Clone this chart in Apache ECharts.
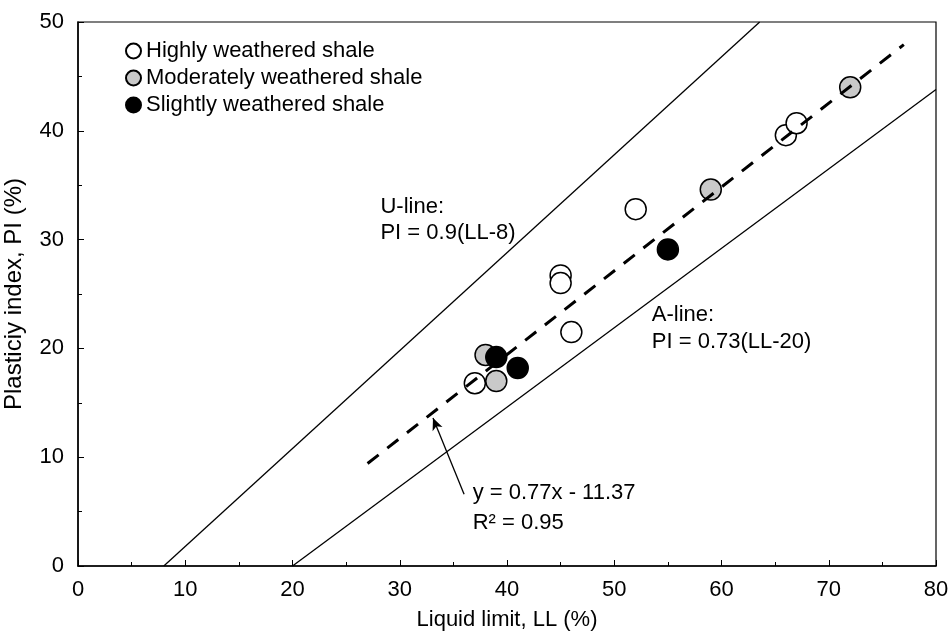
<!DOCTYPE html>
<html><head><meta charset="utf-8">
<script src="https://cdn.jsdelivr.net/npm/echarts@6/dist/echarts.min.js"></script>
<style>html,body{margin:0;padding:0;background:#fff}#c{width:952px;height:635px}</style>
</head><body><div id="c"></div>
<script>
// Data
const highlyLL = [37, 45, 45, 46, 52, 66, 67];
const highlyPI = [16.8, 26.7, 26.0, 21.5, 32.8, 39.6, 40.7];
const modLL = [38, 39, 59, 72];
const modPI = [19.4, 17.0, 34.6, 44.0];
const slightLL = [39, 41, 55];
const slightPI = [19.2, 18.2, 29.1];
const uLineLL = [8, 63.56];
const uLinePI = [0, 50];
const aLineLL = [20, 80];
const aLinePI = [0, 43.8];
const fitLL = [27, 77];
const fitPI = [9.42, 47.92];
const seriesNames = ['Highly weathered shale', 'Moderately weathered shale', 'Slightly weathered shale'];

const zip = (a, b) => a.map((v, i) => [v, b[i]]);
const FONT = 'Liberation Sans, Arial, sans-serif';
const FS = 22;
const chart = echarts.init(document.getElementById('c'), null, {renderer: 'canvas'});

const ptStyle = (fill) => ({color: fill, borderColor: '#000', borderWidth: 1.5, opacity: 1});

chart.setOption({
  backgroundColor: '#fff',
  animation: false,
  grid: {left: 78, right: 16, top: 22, bottom: 69, show: true, borderColor: '#000', borderWidth: 1.2,
         backgroundColor: 'transparent', containLabel: false, outerBoundsMode: 'none'},
  legend: {
    orient: 'vertical', left: 120, top: 35, itemGap: 5, itemWidth: 15, itemHeight: 15,
    icon: 'circle', data: seriesNames,
    textStyle: {fontFamily: FONT, fontSize: FS, color: '#000', padding: [0, 0, 0, 0]}
  },
  xAxis: {
    type: 'value', min: 0, max: 80, interval: 10,
    name: 'Liquid limit, LL (%)', nameLocation: 'middle', nameGap: 43,
    nameTextStyle: {fontFamily: FONT, fontSize: FS, color: '#000'},
    axisLine: {show: true, lineStyle: {color: '#000', width: 1.5}},
    axisTick: {show: true, inside: true, length: 6, lineStyle: {color: '#000'}},
    minorTick: {show: true, splitNumber: 2, length: 4, lineStyle: {color: '#000'}},
    splitLine: {show: false},
    axisLabel: {fontFamily: FONT, fontSize: FS, color: '#000', margin: 13}
  },
  yAxis: {
    type: 'value', min: 0, max: 50, interval: 10,
    name: 'Plasticiy index, PI (%)', nameLocation: 'middle', nameGap: 52,
    nameTextStyle: {fontFamily: FONT, fontSize: 24, color: '#000'},
    axisLine: {show: true, lineStyle: {color: '#000', width: 1.5}},
    axisTick: {show: true, inside: true, length: 6, lineStyle: {color: '#000'}},
    minorTick: {show: true, splitNumber: 2, length: 4, lineStyle: {color: '#000'}},
    splitLine: {show: false},
    axisLabel: {fontFamily: FONT, fontSize: FS, color: '#000', margin: 14}
  },
  series: [
    {name: 'U-line', type: 'line', data: zip(uLineLL, uLinePI), symbol: 'none', lineStyle: {color: '#000', width: 1.3}, z: 1, silent: true},
    {name: 'A-line', type: 'line', data: zip(aLineLL, aLinePI), symbol: 'none', lineStyle: {color: '#000', width: 1.3}, z: 1, silent: true},
    {name: seriesNames[0], type: 'scatter', data: zip(highlyLL, highlyPI), symbolSize: 21, itemStyle: ptStyle('#fff'), z: 2},
    {name: seriesNames[1], type: 'scatter', data: zip(modLL, modPI), symbolSize: 21, itemStyle: ptStyle('#c9c9c9'), z: 3},
    {name: seriesNames[2], type: 'scatter', data: zip(slightLL, slightPI), symbolSize: 21, itemStyle: ptStyle('#000'), z: 4},
    {name: 'fit', type: 'line', data: zip(fitLL, fitPI), symbol: 'none',
     lineStyle: {color: '#000', width: 3, type: [14, 11]}, z: 5, silent: true,
     markLine: {silent: true, symbol: ['none', 'arrow'], symbolSize: [8, 12],
       lineStyle: {color: '#000', width: 1.3, type: 'solid'}, label: {show: false},
       data: [[{coord: [36.0, 6.6]}, {coord: [33.1, 13.6]}]]}}
  ]
});

const annotations = [
  {t: 'U-line:', x: 28.2, y: 33.0},
  {t: 'PI = 0.9(LL-8)', x: 28.2, y: 30.6},
  {t: 'A-line:', x: 53.5, y: 23.1},
  {t: 'PI = 0.73(LL-20)', x: 53.5, y: 20.6},
  {t: 'y = 0.77x - 11.37', x: 36.8, y: 6.7},
  {t: 'R\u00B2 = 0.95', x: 36.8, y: 4.0}
];
chart.setOption({
  graphic: annotations.map(a => {
    const p = chart.convertToPixel({gridIndex: 0}, [a.x, a.y]);
    return {type: 'text', x: p[0], y: p[1], z: 10,
      style: {text: a.t, fontFamily: FONT, fontSize: FS, fill: '#000', verticalAlign: 'middle', align: 'left'}};
  })
});
</script></body></html>
